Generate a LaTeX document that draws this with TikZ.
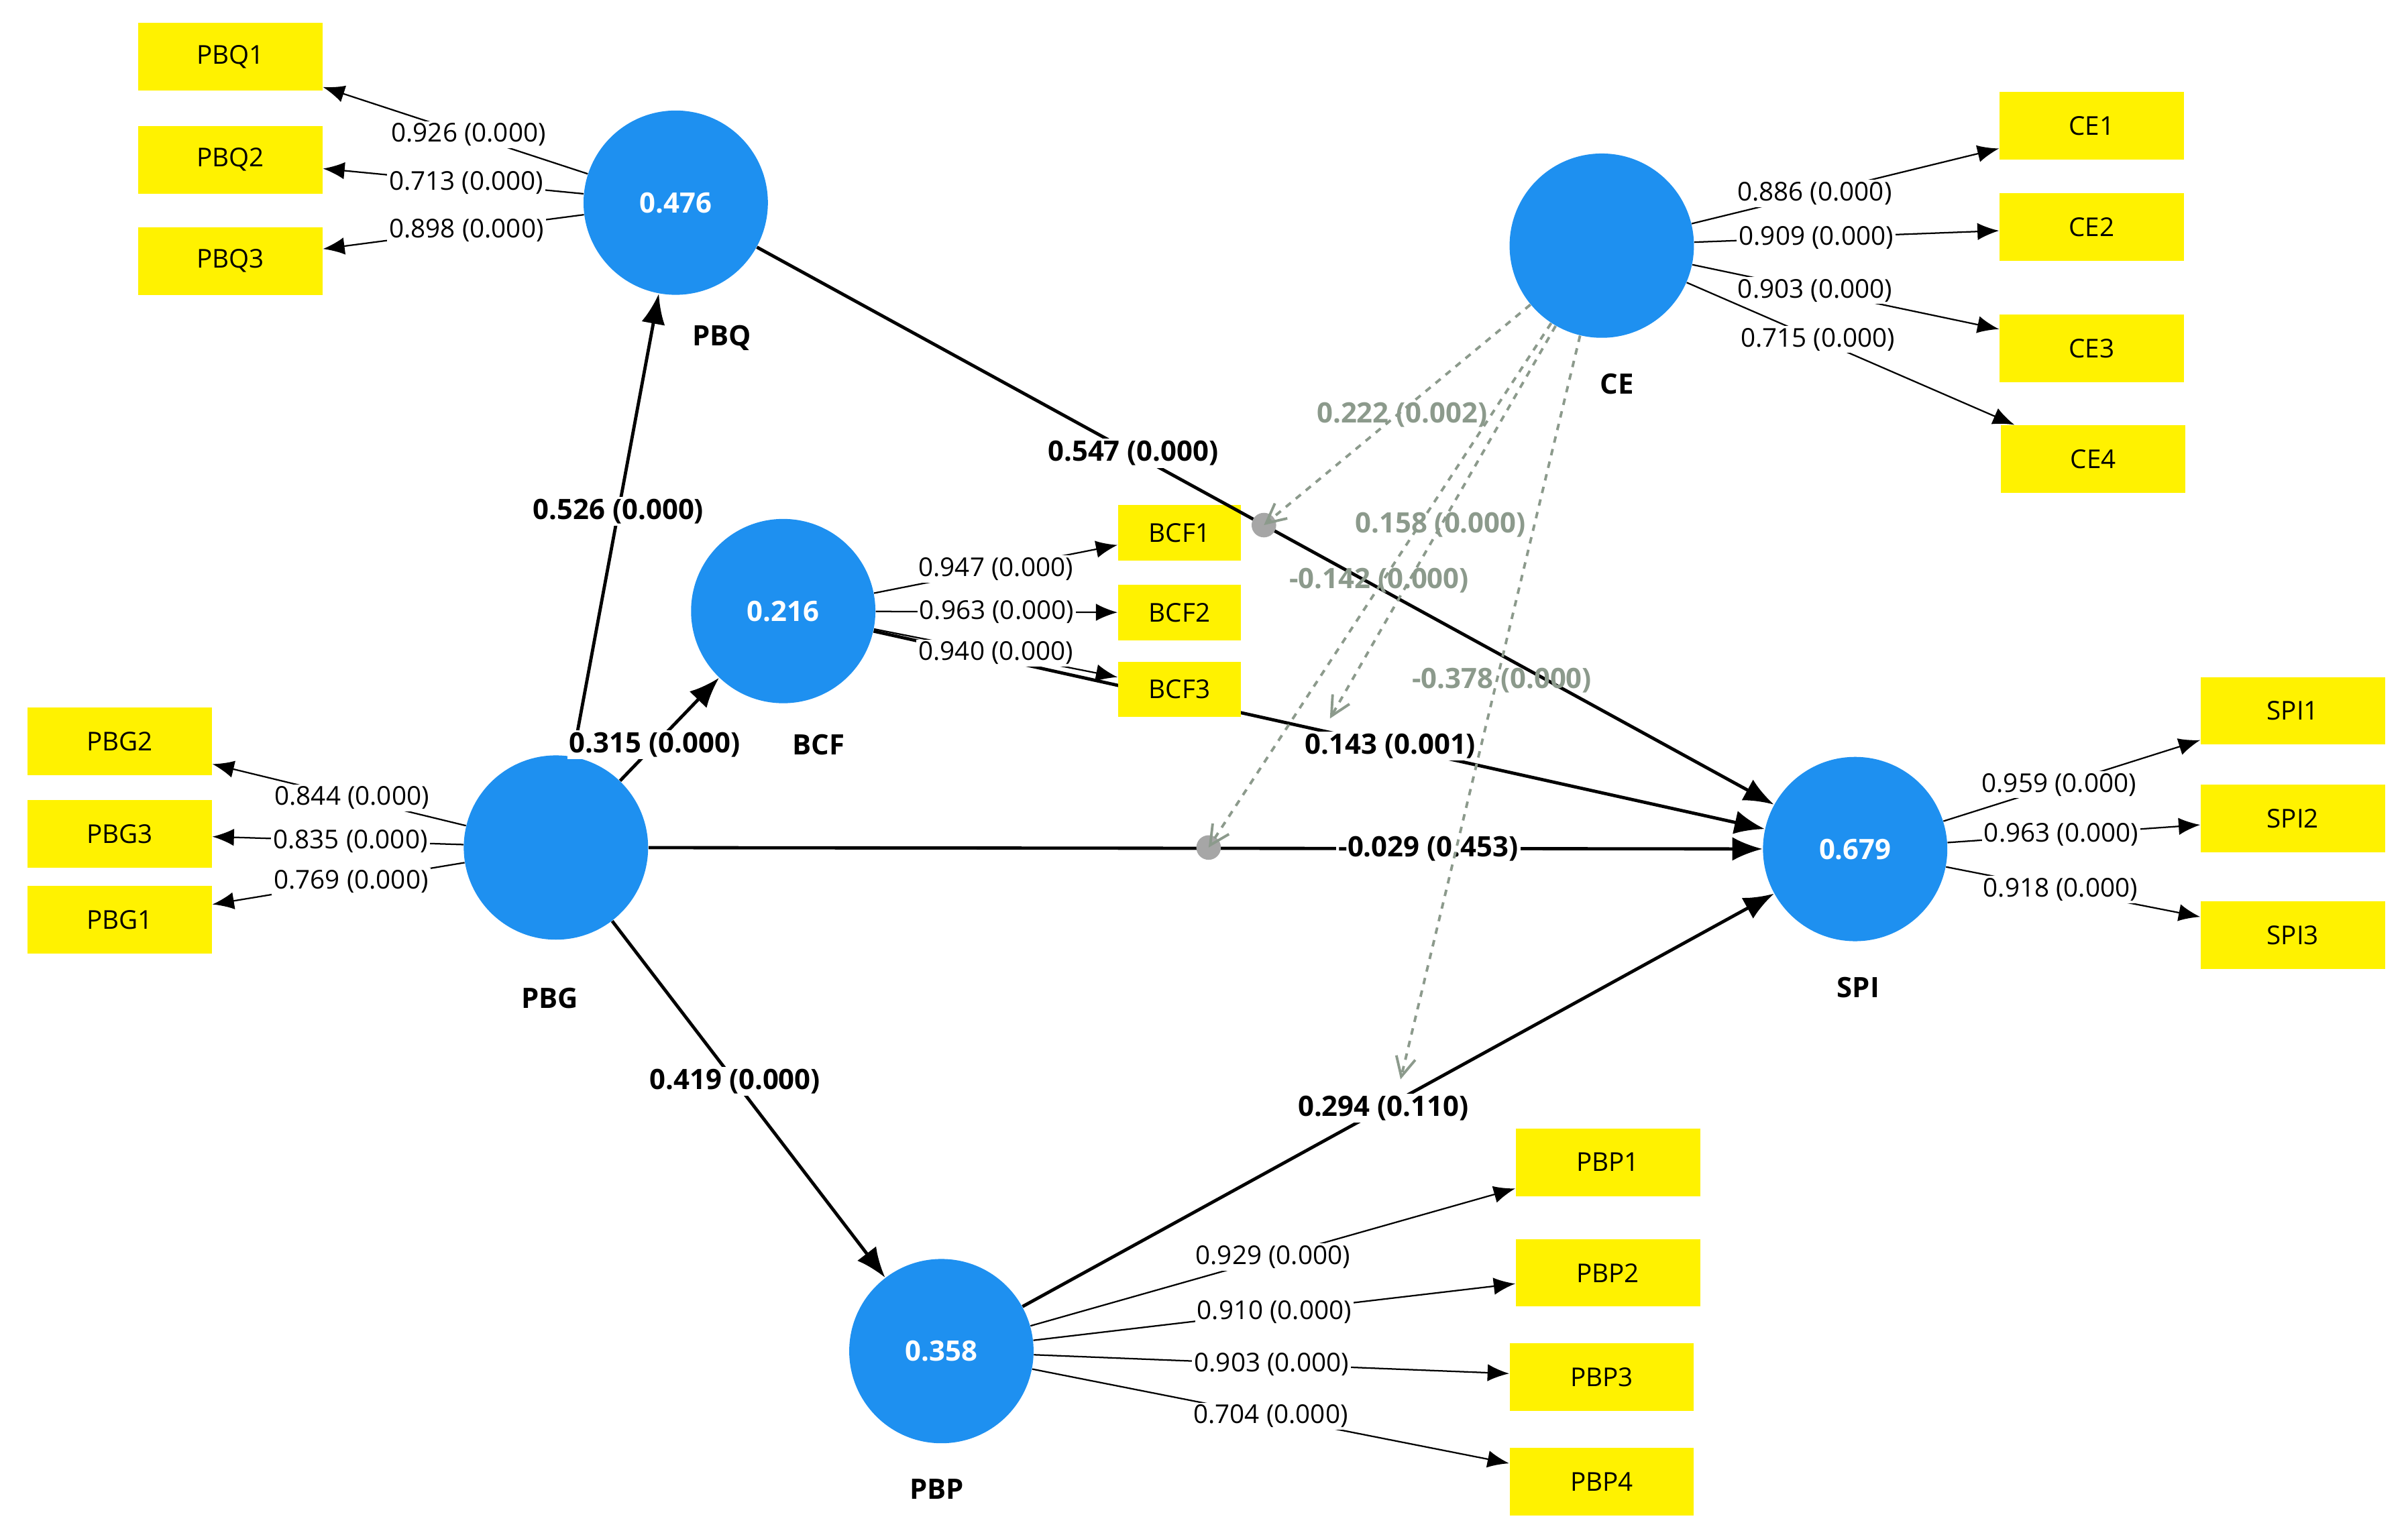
\documentclass[tikz,border=0pt]{standalone}
\usepackage{fontspec}
\setmainfont{Open Sans}
\usetikzlibrary{arrows.meta}
\definecolor{lvblue}{HTML}{1E90F0}
\definecolor{ind}{HTML}{FFF200}
\definecolor{modgray}{HTML}{8C9A8C}
\begin{document}
\begin{tikzpicture}[x=0.025cm,y=-0.025cm,
  lv/.style={circle,fill=lvblue,minimum size=3cm,inner sep=0,text=white,font=\fontsize{13}{15}\selectfont\bfseries},
  lvl/.style={font=\fontsize{13}{15}\selectfont\bfseries},
  box/.style={fill=ind,minimum width=3cm,minimum height=1.1cm,inner sep=0,font=\fontsize{12}{14}\selectfont},
  sbox/.style={box,minimum width=2cm,minimum height=0.9cm},
  ld/.style={-{Latex[length=10pt,width=8pt]},line width=0.7pt},
  ll/.style={fill=white,inner sep=1pt,font=\fontsize{12}{14}\selectfont},
  sp/.style={-{Latex[length=14pt,width=11pt]},line width=1.5pt},
  sl/.style={fill=white,inner sep=1pt,font=\fontsize{13}{15}\selectfont\bfseries},
  md/.style={-{Straight Barb[open,length=9pt,width=9pt]},dashed,modgray,line width=1.2pt},
  ml/.style={text=modgray,inner sep=1pt,font=\fontsize{13}{15}\selectfont\bfseries}]
\useasboundingbox (0,0) rectangle (1568,1001);
\fill[white] (0,0) rectangle (1568,1001);
% latent variables
\node[lv] (PBQ) at (440,132) {0.476};
\node[lv] (CE) at (1043,160) {};
\node[lv] (BCF) at (510,398) {0.216};
\node[lv] (PBG) at (362,552) {};
\node[lv] (SPI) at (1208,553) {0.679};
\node[lv] (PBP) at (613,880) {0.358};
\node[lvl] (lPBQ) at (470,220) {PBQ};
\node[lvl] (lCE) at (1053,250) {CE};
\node[lvl] (lBCF) at (533,485) {BCF};
\node[lvl] (lPBG) at (358,650) {PBG};
\node[lvl] (lSPI) at (1210,643) {SPI};
\node[lvl] (lPBP) at (610,970) {PBP};
% indicators
\node[box] (PBQ1) at (150,37) {PBQ1};
\node[box] (PBQ2) at (150,104) {PBQ2};
\node[box] (PBQ3) at (150,170) {PBQ3};
\node[box] (CE1) at (1362,82) {CE1};
\node[box] (CE2) at (1362,148) {CE2};
\node[box] (CE3) at (1362,227) {CE3};
\node[box] (CE4) at (1363,299) {CE4};
\node[box] (PBG2) at (78,483) {PBG2};
\node[box] (PBG3) at (78,543) {PBG3};
\node[box] (PBG1) at (78,599) {PBG1};
\node[box] (SPI1) at (1493,463) {SPI1};
\node[box] (SPI2) at (1493,533) {SPI2};
\node[box] (SPI3) at (1493,609) {SPI3};
\node[box] (PBP1) at (1047,757) {PBP1};
\node[box] (PBP2) at (1047,829) {PBP2};
\node[box] (PBP3) at (1043,897) {PBP3};
\node[box] (PBP4) at (1043,965) {PBP4};
% structural paths (BCF->SPI behind boxes)
\draw[sp] (BCF) -- (SPI) node[sl,pos=0.58] {0.143 (0.001)};
\node[sbox] (BCF1) at (768,347) {BCF1};
\node[sbox] (BCF2) at (768,399) {BCF2};
\node[sbox] (BCF3) at (768,449) {BCF3};
\draw[sp] (PBG) -- (PBQ) node[sl,pos=0.53] {0.526 (0.000)};
\draw[sp] (PBG) -- (BCF) node[sl,pos=0.35] {0.315 (0.000)};
\draw[sp] (PBG) -- (SPI) node[sl,pos=0.7] {-0.029 (0.453)};
\draw[sp] (PBG) -- (PBP) node[sl,pos=0.45] {0.419 (0.000)};
\draw[sp] (PBQ) -- (SPI) node[sl,pos=0.37] {0.547 (0.000)};
\draw[sp] (PBP) -- (SPI) node[sl,pos=0.48] {0.294 (0.110)};
% loadings
\foreach \i/\v/\p in {PBQ1/0.926/0.45,PBQ2/0.713/0.45,PBQ3/0.898/0.45}
  \draw[ld] (PBQ) -- (\i) node[ll,pos=\p] {\v\ (0.000)};
\foreach \i/\v/\p in {CE1/0.886/0.4,CE2/0.909/0.4,CE3/0.903/0.4,CE4/0.715/0.4}
  \draw[ld] (CE) -- (\i) node[ll,pos=\p] {\v\ (0.000)};
\foreach \i/\v in {BCF1/0.947,BCF2/0.963,BCF3/0.940}
  \draw[ld] (BCF) -- (\i) node[ll,pos=0.5] {\v\ (0.000)};
\foreach \i/\v in {PBG2/0.844,PBG3/0.835,PBG1/0.769}
  \draw[ld] (PBG) -- (\i) node[ll,pos=0.45] {\v\ (0.000)};
\foreach \i/\v in {SPI1/0.959,SPI2/0.963,SPI3/0.918}
  \draw[ld] (SPI) -- (\i) node[ll,pos=0.45] {\v\ (0.000)};
\foreach \i/\v in {PBP1/0.929,PBP2/0.910,PBP3/0.903,PBP4/0.704}
  \draw[ld] (PBP) -- (\i) node[ll,pos=0.5] {\v\ (0.000)};
% moderation
\coordinate (m1) at (823,342);
\coordinate (m2) at (866,468);
\coordinate (m3) at (787,552);
\coordinate (m4) at (912,703);
\fill[gray!70] (m1) circle (8);
\fill[gray!70] (m3) circle (8);
\draw[md] (CE) -- (m1);
\draw[md] (CE) -- (m2);
\draw[md] (CE) -- (m3);
\draw[md] (CE) -- (m4);
\node[ml] (t1) at (913,270) {0.222 (0.002)};
\node[ml] (t2) at (938,342) {0.158 (0.000)};
\node[ml] (t3) at (898,378) {-0.142 (0.000)};
\node[ml] (t4) at (978,443) {-0.378 (0.000)};
\end{tikzpicture}
\end{document}
